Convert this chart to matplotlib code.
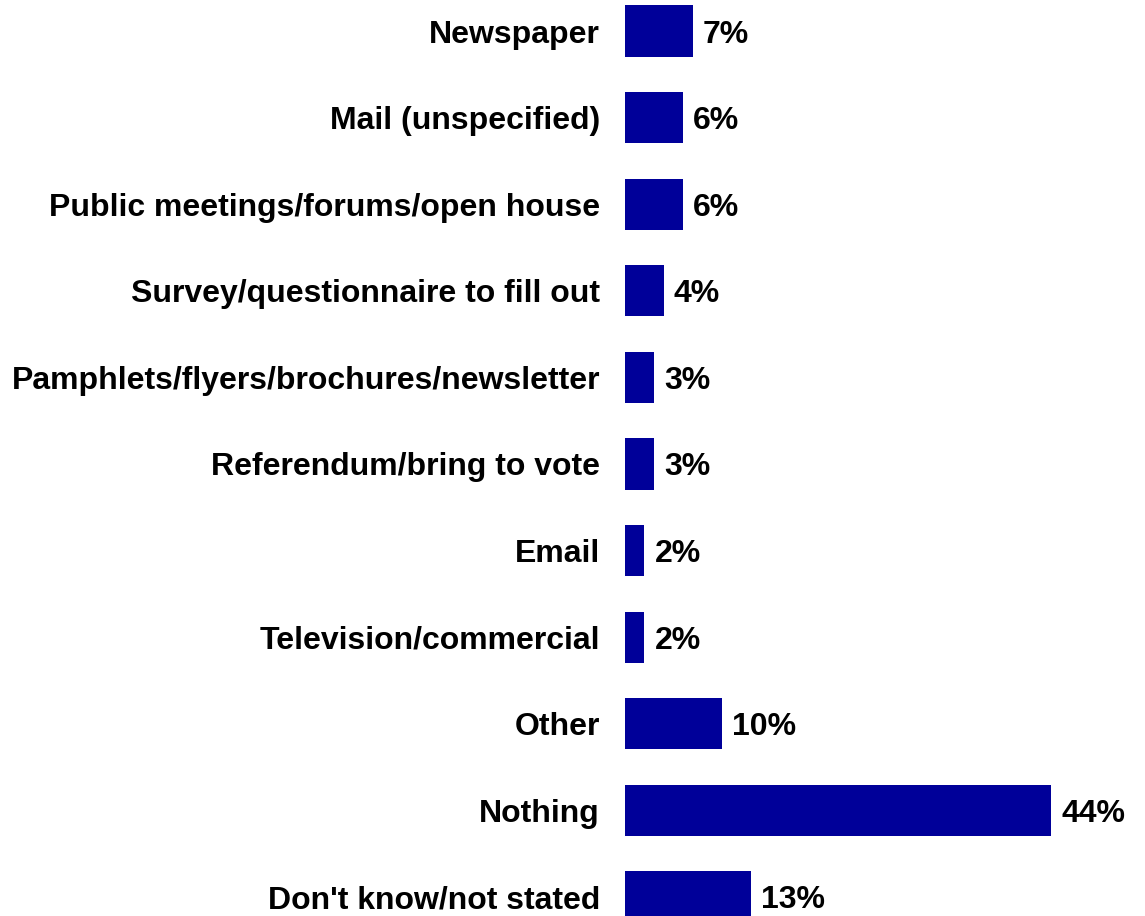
import matplotlib
matplotlib.use("Agg")
import matplotlib.pyplot as plt

categories = [
    "Newspaper",
    "Mail (unspecified)",
    "Public meetings/forums/open house",
    "Survey/questionnaire to fill out",
    "Pamphlets/flyers/brochures/newsletter",
    "Referendum/bring to vote",
    "Email",
    "Television/commercial",
    "Other",
    "Nothing",
    "Don't know/not stated",
]
values = [7, 6, 6, 4, 3, 3, 2, 2, 10, 44, 13]

BAR_COLOR = "#000099"
FONT = ["Liberation Sans", "Arial", "DejaVu Sans"]

W, H, DPI = 1145, 916, 100
fig = plt.figure(figsize=(W / DPI, H / DPI), dpi=DPI)
fig.patch.set_facecolor("white")

left_px, right_px = 625, 1129
ax = fig.add_axes([left_px / W, 0, (right_px - left_px) / W, 1])

pos = list(range(len(categories)))
ax.barh(pos, values, height=0.59, color=BAR_COLOR, edgecolor="none")

ax.set_xlim(0, 52)
ax.set_ylim(10.22, -0.358)

ax.set_yticks(pos)
ax.set_yticklabels(categories, fontsize=23, fontweight="bold", family=FONT)
ax.tick_params(axis="y", length=0, pad=18)
ax.set_xticks([])
for s in ax.spines.values():
    s.set_visible(False)

for y, v in zip(pos, values):
    ax.annotate(f"{v}%", xy=(v, y), xytext=(7.2, 0), textcoords="offset points",
                ha="left", va="center_baseline", fontsize=23, fontweight="bold",
                family=FONT, color="black")

fig.savefig("out.png", dpi=DPI, facecolor="white")
